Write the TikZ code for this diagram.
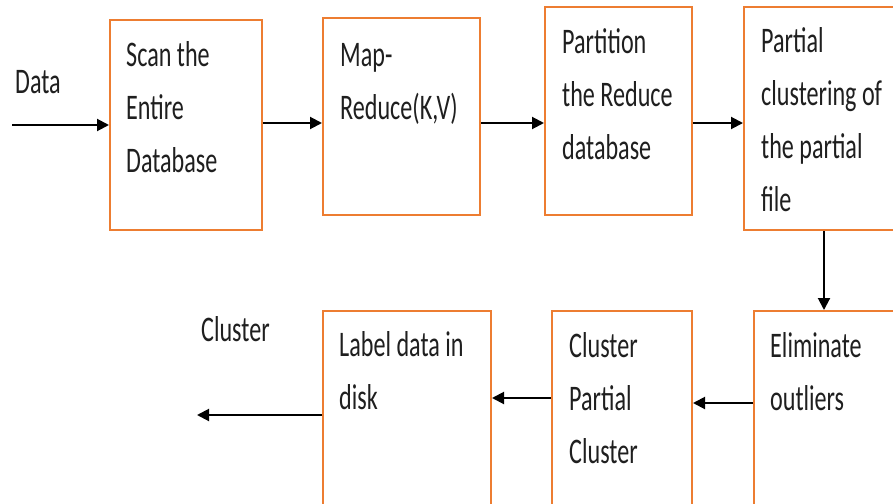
\documentclass[tikz,border=0pt]{standalone}
\usepackage{fontspec}
\newfontfamily\lbl[FakeStretch=0.67]{Carlito}
\usetikzlibrary{arrows.meta}
\definecolor{boxorange}{RGB}{237,125,49}
\tikzset{
  stage/.style={draw=boxorange, line width=2pt, fill=white, inner sep=0pt},
  % captions are placed by the baseline of their last line
  stagetext/.style={anchor=base west, inner sep=0pt, align=left,
    font=\lbl\fontsize{36}{53}\selectfont, text=black!88},
  flow/.style={line width=2pt, -{Triangle[length=12pt,width=12pt]}}
}
\begin{document}
\begin{tikzpicture}[x=1pt,y=-1pt]
\clip (0,0) rectangle (893,503);
\fill[white] (0,0) rectangle (893,503);
% processing stages (upper row runs left to right, lower row right to left)
\node[stage, minimum width=152pt, minimum height=210pt] (b1) at (186,125) {};
\node[stage, minimum width=157pt, minimum height=197pt] (b2) at (401.5,116.5) {};
\node[stage, minimum width=147pt, minimum height=208pt] (b3) at (618.5,111) {};
\node[stage, minimum width=160pt, minimum height=223pt] (b4) at (824,118.5) {};
\node[stage, minimum width=160pt, minimum height=210pt] (b5) at (834,416) {};
\node[stage, minimum width=140pt, minimum height=210pt] (b6) at (622,416) {};
\node[stage, minimum width=168pt, minimum height=210pt] (b7) at (407,416) {};
% stage captions
\node[stagetext] (t1) at (126,172) {Scan the\\Entire\\Database};
\node[stagetext] (t2) at (340,119) {Map-\\Reduce(K,V)};
\node[stagetext] (t3) at (562,159) {Partition\\the Reduce\\database};
\node[stagetext] (t4) at (761,211) {Partial\\clustering of\\the partial\\file};
\node[stagetext] (t5) at (770,410) {Eliminate\\outliers};
\node[stagetext] (t6) at (569,463) {Cluster\\Partial\\Cluster};
\node[stagetext] (t7) at (339,409) {Label data in\\disk};
% input and output labels
\node[stagetext] (lin) at (15,93) {Data};
\node[stagetext] (lout) at (201,341) {Cluster};
\coordinate (din) at (12,125);
\coordinate (dout) at (197,415);
% connectors
\draw[flow] (din) -- (b1.west |- din);
\draw[flow] (b1.east |- 0,123) -- (b2.west |- 0,123);
\draw[flow] (b2.east |- 0,123) -- (b3.west |- 0,123);
\draw[flow] (b3.east |- 0,123) -- (b4.west |- 0,123);
\draw[flow] (b4.south) -- (b5.north -| b4.south);
\draw[flow] (b5.west |- 0,403) -- (b6.east |- 0,403);
\draw[flow] (b6.west |- 0,398) -- (b7.east |- 0,398);
\draw[flow] (b7.west |- dout) -- (dout);
\end{tikzpicture}
\end{document}
